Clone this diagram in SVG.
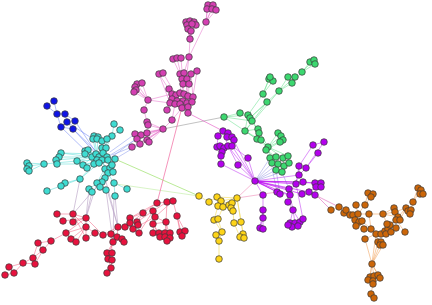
<svg xmlns="http://www.w3.org/2000/svg" width="432" height="305" viewBox="0 0 432 305">
<style>
.e{fill:none;stroke-width:0.8;stroke-linecap:round}
.n circle{r:3.3px;stroke:#3a3a3a;stroke-width:0.7}
#blue circle{fill:#1014e6}
#cyan circle{fill:#3fdcd2}
#magenta circle{fill:#d43fb2}
#green circle{fill:#3cd870}
#purple circle{fill:#b400ee}
#yellow circle{fill:#fdd418}
#red circle{fill:#e8123e}
#orange circle{fill:#cc6608}
</style>
<rect width="432" height="305" fill="#fff"/>
<g id="connectors">
<path class="e" stroke="#b9a3c6" stroke-opacity="0.8" d="M80 179L73 214M89 189L86 218M92 192L73 214M92 192L86 218M97 183L86 218M105 178L118 227M107 190L118 227M114 195L113 242M106 190L113 242M115 196L118 227"/>
<path class="e" stroke="#8fa0ee" stroke-opacity="0.7" d="M110 152L135 134M112 155L132 147M115 159L140 144M107 157L137 139M108 160L141 135"/>
<path class="e" stroke="#93de5c" stroke-opacity="0.8" d="M115 159L199 196"/>
<path class="e" stroke="#c9efb0" stroke-opacity="0.9" d="M116 184L199 196"/>
<path class="e" stroke="#5f78f2" stroke-opacity="0.6" d="M73 129L95 150M75 121L97 154M67 122L93 139M61 127L92 157M73 129L99 157M54 101L57 114M47 106L57 114M57 114L61 127M65 114L67 122M67 122L73 129M61 127L73 129M57 114L65 114M65 114L75 121M61 127L67 122"/>
<path class="e" stroke="#55ddd6" stroke-opacity="0.65" d="M114 124L112 136M120 130L112 136M112 136L102 150M112 136L106 148M94 136L97 154M98 137L97 154M93 139L96 154M102 141L99 157M107 139L103 153M102 148L97 160M106 148L107 157M85 151L97 154M88 150L99 157M85 154L96 154M61 153L92 157M59 157L92 157M56 160L92 157M57 164L94 164M61 153L96 154M44 164L77 161M77 161L92 157M77 161L97 160M27 163L44 164M29 171L44 164M29 166L44 164M83 165L96 154M87 168L97 160M83 165L102 160M105 169L102 160M110 168L107 157M108 173L102 160M113 172L103 153M112 165L108 160M112 165L99 157M80 179L94 164M80 179L99 163M105 178L108 173M102 182L105 169M97 183L104 170M100 187L105 178M97 183L108 173M65 183L80 179M61 186L80 179M47 191L61 186M89 189L100 181M92 192L102 182M114 183L105 169M106 190L100 187M115 196L114 183M127 189L114 183M115 159L108 160M115 159L103 153"/>
<path class="e" stroke="#aaaaaa" stroke-opacity="0.9" d="M163 129L224 117"/>
<path class="e" stroke="#e45cc4" stroke-opacity="0.8" d="M188 113L223 131"/>
<path class="e" stroke="#f0609a" stroke-opacity="0.85" d="M182 107L157 203"/>
<path class="e" stroke="#e364c6" stroke-opacity="0.6" d="M208 5L206 22M213 5L206 22M216 10L206 22M207 9L206 22M212 9L206 22M206 22L189 57L187 73M186 22L190 39M190 21L190 39M194 22L190 39M187 24L190 39M196 25L190 39M188 29L190 39M191 31L190 39M190 39L189 57M173 59L180 74M177 58L182 79M181 58L183 84M189 57L184 73M159 74L172 94M163 73L176 95M159 74L170 103M137 84L148 100M142 83L148 100M135 87L148 100M136 90L148 100M134 92L148 100M148 100L170 103M148 100L172 94M148 100L144 110M144 110L147 122M148 125L163 129M147 122L163 129M163 129L135 134M163 129L141 135M163 129L147 133M163 129L137 139M163 129L147 140M163 129L140 144M163 129L132 147M163 129L149 142M163 129L172 120L175 104M172 120L182 108M167 110L172 99M180 74L184 94M184 73L188 96M191 74L193 97M197 71L192 102M182 79L180 93M187 79L187 103M183 84L183 101M189 84L188 107M169 89L176 95M169 89L172 99M172 94L177 101M176 95L180 104M180 93L182 108M184 94L188 113M188 96L188 107M193 97L192 102M170 103L175 104M177 101L187 103M183 101L188 113M172 99L167 110M135 134L141 135M137 139L140 144M132 147L140 144M147 133L149 142"/>
<path class="e" stroke="#6fe293" stroke-opacity="0.7" d="M310 62L302 72M314 60L302 72M315 64L302 72M302 72L292 83M288 77L279 91M295 77L279 91M292 83L279 91M279 91L250 118M279 91L245 131M269 79L263 94M273 81L263 94M270 77L263 94M263 94L267 102M267 102L250 118M263 94L248 115M267 102L245 131M224 117L240 113M224 117L248 115M224 117L245 131M224 117L252 121M240 113L248 115M248 115L245 131M245 131L258 129M245 131L261 140M245 131L268 147M245 131L257 139M252 121L258 129M252 121L259 133M258 129L268 147M261 140L268 147M278 133L268 147M283 140L268 147M280 142L266 150M281 136L268 147M268 147L272 163M266 150L276 157M268 147L283 158M266 150L270 158M268 147L288 156M276 157L278 164M283 158L284 166M288 156L289 163"/>
<path class="e" stroke="#8c8ce0" stroke-opacity="0.6" d="M255 181L272 163M255 181L276 170M255 181L282 172M255 181L278 164M255 181L270 158M276 170L280 193M272 168L277 192M282 172L289 189"/>
<path class="e" stroke="#c23cf2" stroke-opacity="0.7" d="M255 181L263 195M263 195L263 210M263 210L263 218M263 218L260 228M263 210L260 228M263 210L263 229M255 181L238 165M255 181L221 164M255 181L248 158M255 181L228 146M255 181L232 146M232 137L255 181M255 181L299 175M299 166L299 175M306 168L299 175M299 175L295 184M318 153L306 168M324 142L306 168M313 145L299 166M313 145L324 142M288 202L293 210M293 210L295 223M290 195L293 210M293 210L290 223M293 210L300 222M303 219L296 184M223 131L228 146M218 136L217 147M228 133L232 146M221 155L222 152M221 164L221 155M222 152L217 147M248 158L232 146M238 165L228 146M299 166L296 184M277 192L290 195M289 189L303 182M303 182L315 183M309 192L316 187"/>
<path class="e" stroke="#b800f0" stroke-opacity="0.75" stroke-width="1.4" d="M255 181L277 192M255 181L289 189M255 181L296 184M255 181L303 182M255 181L315 183M255 181L309 192M255 181L302 194M255 181L290 195M255 181L280 193"/>
<path class="e" stroke="#f2a0c4" stroke-opacity="0.9" d="M237 198L255 181M237 198L277 192"/>
<path class="e" stroke="#e070c0" stroke-opacity="0.8" d="M316 195L331 210M315 195L339 207"/>
<path class="e" stroke="#f5df6a" stroke-opacity="0.85" d="M199 196L209 202M209 202L217 197M209 202L218 206M217 197L237 198M221 201L237 198M229 205L237 198M232 203L237 198M237 198L233 211M218 206L214 220M223 207L218 219M214 220L222 232M218 219L222 232M222 232L219 241M216 235L219 241M219 241L219 259M233 211L234 223M237 198L241 222M241 222L243 234M234 223L240 237M237 198L244 238M217 197L229 205M221 201L231 208M214 220L218 219"/>
<path class="e" stroke="#f25276" stroke-opacity="0.6" d="M5 275L14 273M9 267L14 273M9 267L23 263M14 273L23 263M23 263L33 258M23 263L35 264M33 258L43 250M35 264L43 250M43 250L38 243M38 243L51 241M33 258L38 243M43 250L51 241M51 241L66 233M66 233L86 227M66 233L86 218M57 214L73 214M73 214L86 218M63 221L86 218M73 222L86 218M73 214L86 227M86 218L86 227M86 227L95 233M86 227L71 239M86 227L76 242M86 227L86 238M86 238L95 233M95 233L103 235M103 235L111 234M103 235L118 227M111 234L118 227M86 218L103 235M73 214L86 238M118 227L125 227M125 227L130 218M130 218L143 213M130 223L137 222M133 229L139 233M118 227L117 237M117 237L124 242M113 242L122 239M111 234L113 242M117 237L108 253M113 242L107 253M107 253L108 259M112 253L112 260M108 259L111 268M111 268L107 273M112 260L111 268M111 234L112 253M143 213L157 203M153 211L167 202M155 217L173 201M157 203L167 202M167 202L173 201M173 201L177 216M167 202L166 222M166 222L153 224M155 217L153 233M166 222L165 233M166 222L170 238M177 216L180 232M177 216L185 231M153 211L153 224M153 224L160 237M133 229L155 217M139 233L153 211M137 222L153 211M130 218L157 203M125 227L143 213M133 229L143 213M166 222L167 241M177 216L182 236M153 224L159 233M155 217L166 222"/>
<path class="e" stroke="#f0a25c" stroke-opacity="0.7" d="M331 210L339 207M339 207L344 213M339 207L346 210M344 213L353 215M346 210L358 214M350 215L356 226M353 215L362 221M358 214L369 214M355 220L364 229M356 205L358 214M365 205L358 214M368 193L365 205M373 194L365 205M369 214L383 214M383 214L394 208M383 214L395 212M383 214L398 217M395 212L406 208M398 217L406 208M410 214L413 202M413 202L418 188M413 202L421 190M364 229L376 234M371 229L381 234M365 239L376 234M376 234L385 231M381 234L388 229M385 231L390 225M390 225L396 220M396 220L405 232M386 234L396 228M365 239L372 264M376 234L378 242M378 242L372 264M372 264L370 277M372 264L374 276M372 264L378 275M372 264L380 278M368 280L373 284M373 284L371 294M371 294L374 298M380 245L372 264M383 245L372 264M358 214L364 229M369 214L371 229M383 214L387 224M394 208L396 220M344 213L355 220M362 221L371 229M400 220L406 208M376 234L370 277"/>
</g>
<g id="blue" class="n">
<circle id="b1" cx="54" cy="101"/><circle id="b2" cx="47" cy="106"/><circle id="b3" cx="57" cy="114"/><circle id="b4" cx="65" cy="114"/><circle id="b5" cx="75" cy="121"/><circle id="b6" cx="67" cy="122"/><circle id="b7" cx="61" cy="127"/><circle id="b8" cx="73" cy="129"/>
</g>
<g id="cyan" class="n">
<circle id="c1" cx="114" cy="124"/><circle id="c2" cx="120" cy="130"/><circle id="c3" cx="112" cy="136"/><circle id="c4" cx="94" cy="136"/><circle id="c5" cx="98" cy="137"/><circle id="c6" cx="93" cy="139"/><circle id="c7" cx="97" cy="139"/><circle id="c8" cx="102" cy="141"/><circle id="c9" cx="107" cy="139"/><circle id="c10" cx="102" cy="148"/><circle id="c11" cx="106" cy="148"/><circle id="c12" cx="85" cy="151"/><circle id="c13" cx="88" cy="150"/><circle id="c14" cx="85" cy="154"/><circle id="c15" cx="92" cy="157"/><circle id="c16" cx="96" cy="154"/><circle id="c17" cx="99" cy="157"/><circle id="c18" cx="103" cy="153"/><circle id="c19" cx="107" cy="157"/><circle id="c20" cx="97" cy="160"/><circle id="c21" cx="102" cy="160"/><circle id="c22" cx="94" cy="164"/><circle id="c23" cx="99" cy="163"/><circle id="c24" cx="108" cy="160"/><circle id="c25" cx="115" cy="159"/><circle id="c26" cx="61" cy="153"/><circle id="c27" cx="59" cy="157"/><circle id="c28" cx="56" cy="160"/><circle id="c29" cx="57" cy="164"/><circle id="c30" cx="27" cy="163"/><circle id="c31" cx="29" cy="166"/><circle id="c32" cx="27" cy="169"/><circle id="c33" cx="29" cy="171"/><circle id="c34" cx="44" cy="164"/><circle id="c35" cx="77" cy="161"/><circle id="c36" cx="83" cy="165"/><circle id="c37" cx="87" cy="168"/><circle id="c38" cx="105" cy="169"/><circle id="c39" cx="110" cy="168"/><circle id="c40" cx="108" cy="173"/><circle id="c41" cx="113" cy="172"/><circle id="c42" cx="112" cy="165"/><circle id="c43" cx="80" cy="179"/><circle id="c44" cx="105" cy="178"/><circle id="c45" cx="102" cy="182"/><circle id="c46" cx="97" cy="183"/><circle id="c47" cx="100" cy="187"/><circle id="c48" cx="65" cy="183"/><circle id="c49" cx="61" cy="186"/><circle id="c50" cx="47" cy="191"/><circle id="c51" cx="89" cy="189"/><circle id="c52" cx="92" cy="192"/><circle id="c53" cx="114" cy="183"/><circle id="c54" cx="106" cy="190"/><circle id="c55" cx="115" cy="196"/><circle id="c56" cx="127" cy="189"/>
</g>
<g id="magenta" class="n">
<circle id="m1" cx="208" cy="5"/><circle id="m2" cx="213" cy="5"/><circle id="m3" cx="207" cy="9"/><circle id="m4" cx="212" cy="9"/><circle id="m5" cx="216" cy="10"/><circle id="m6" cx="206" cy="22"/><circle id="m7" cx="186" cy="22"/><circle id="m8" cx="190" cy="21"/><circle id="m9" cx="194" cy="22"/><circle id="m10" cx="187" cy="25"/><circle id="m11" cx="196" cy="25"/><circle id="m12" cx="192" cy="24"/><circle id="m13" cx="188" cy="29"/><circle id="m14" cx="191" cy="31"/><circle id="m15" cx="190" cy="39"/><circle id="m16" cx="189" cy="57"/><circle id="m17" cx="173" cy="59"/><circle id="m18" cx="177" cy="58"/><circle id="m19" cx="181" cy="58"/><circle id="m20" cx="159" cy="74"/><circle id="m21" cx="163" cy="73"/><circle id="m22" cx="180" cy="74"/><circle id="m23" cx="184" cy="73"/><circle id="m24" cx="191" cy="74"/><circle id="m25" cx="197" cy="71"/><circle id="m26" cx="182" cy="79"/><circle id="m27" cx="187" cy="79"/><circle id="m28" cx="137" cy="84"/><circle id="m29" cx="142" cy="83"/><circle id="m30" cx="135" cy="87"/><circle id="m31" cx="136" cy="90"/><circle id="m32" cx="134" cy="92"/><circle id="m33" cx="169" cy="89"/><circle id="m34" cx="183" cy="84"/><circle id="m35" cx="189" cy="84"/><circle id="m36" cx="172" cy="94"/><circle id="m37" cx="176" cy="95"/><circle id="m38" cx="180" cy="93"/><circle id="m39" cx="184" cy="94"/><circle id="m40" cx="188" cy="96"/><circle id="m41" cx="193" cy="97"/><circle id="m42" cx="148" cy="100"/><circle id="m43" cx="172" cy="99"/><circle id="m44" cx="177" cy="101"/><circle id="m45" cx="183" cy="101"/><circle id="m46" cx="170" cy="103"/><circle id="m47" cx="175" cy="104"/><circle id="m48" cx="180" cy="104"/><circle id="m49" cx="187" cy="103"/><circle id="m50" cx="192" cy="102"/><circle id="m51" cx="167" cy="110"/><circle id="m52" cx="182" cy="108"/><circle id="m53" cx="188" cy="107"/><circle id="m54" cx="188" cy="113"/><circle id="m55" cx="144" cy="110"/><circle id="m56" cx="172" cy="120"/><circle id="m57" cx="147" cy="122"/><circle id="m58" cx="148" cy="125"/><circle id="m59" cx="163" cy="129"/><circle id="m60" cx="135" cy="134"/><circle id="m61" cx="141" cy="135"/><circle id="m62" cx="147" cy="133"/><circle id="m63" cx="137" cy="139"/><circle id="m64" cx="147" cy="140"/><circle id="m65" cx="140" cy="144"/><circle id="m66" cx="132" cy="147"/><circle id="m67" cx="149" cy="142"/>
</g>
<g id="green" class="n">
<circle id="g1" cx="310" cy="62"/><circle id="g2" cx="314" cy="60"/><circle id="g3" cx="315" cy="64"/><circle id="g4" cx="302" cy="72"/><circle id="g5" cx="288" cy="77"/><circle id="g6" cx="295" cy="77"/><circle id="g7" cx="292" cy="83"/><circle id="g8" cx="269" cy="79"/><circle id="g9" cx="273" cy="81"/><circle id="g10" cx="270" cy="77"/><circle id="g11" cx="279" cy="91"/><circle id="g12" cx="263" cy="94"/><circle id="g13" cx="267" cy="102"/><circle id="g14" cx="224" cy="117"/><circle id="g15" cx="240" cy="113"/><circle id="g16" cx="248" cy="115"/><circle id="g17" cx="250" cy="118"/><circle id="g18" cx="252" cy="121"/><circle id="g19" cx="245" cy="131"/><circle id="g20" cx="258" cy="129"/><circle id="g21" cx="259" cy="133"/><circle id="g22" cx="257" cy="139"/><circle id="g23" cx="261" cy="140"/><circle id="g24" cx="278" cy="133"/><circle id="g25" cx="281" cy="136"/><circle id="g26" cx="283" cy="140"/><circle id="g27" cx="280" cy="142"/><circle id="g28" cx="268" cy="147"/><circle id="g29" cx="266" cy="150"/><circle id="g30" cx="270" cy="158"/><circle id="g31" cx="276" cy="157"/><circle id="g32" cx="283" cy="158"/><circle id="g33" cx="288" cy="156"/><circle id="g34" cx="272" cy="163"/><circle id="g35" cx="278" cy="164"/><circle id="g36" cx="284" cy="166"/><circle id="g37" cx="289" cy="163"/><circle id="g38" cx="276" cy="170"/><circle id="g39" cx="282" cy="172"/>
</g>
<g id="purple" class="n">
<circle id="p1" cx="223" cy="131"/><circle id="p2" cx="228" cy="133"/><circle id="p3" cx="227" cy="137"/><circle id="p4" cx="232" cy="137"/><circle id="p5" cx="234" cy="140"/><circle id="p6" cx="218" cy="136"/><circle id="p7" cx="217" cy="147"/><circle id="p8" cx="220" cy="146"/><circle id="p9" cx="224" cy="148"/><circle id="p10" cx="228" cy="146"/><circle id="p11" cx="232" cy="146"/><circle id="p12" cx="222" cy="152"/><circle id="p13" cx="221" cy="156"/><circle id="p14" cx="248" cy="158"/><circle id="p15" cx="221" cy="164"/><circle id="p16" cx="238" cy="165"/><circle id="p17" cx="313" cy="145"/><circle id="p18" cx="324" cy="142"/><circle id="p19" cx="318" cy="153"/><circle id="p20" cx="299" cy="166"/><circle id="p21" cx="306" cy="168"/><circle id="p22" cx="255" cy="181"/><circle id="p23" cx="299" cy="175"/><circle id="p24" cx="263" cy="195"/><circle id="p25" cx="277" cy="192"/><circle id="p26" cx="280" cy="194"/><circle id="p27" cx="289" cy="189"/><circle id="p28" cx="290" cy="195"/><circle id="p29" cx="288" cy="202"/><circle id="p30" cx="296" cy="184"/><circle id="p31" cx="303" cy="182"/><circle id="p32" cx="315" cy="183"/><circle id="p33" cx="321" cy="183"/><circle id="p34" cx="316" cy="187"/><circle id="p35" cx="321" cy="187"/><circle id="p36" cx="309" cy="192"/><circle id="p37" cx="302" cy="194"/><circle id="p38" cx="315" cy="195"/><circle id="p39" cx="263" cy="210"/><circle id="p40" cx="293" cy="210"/><circle id="p41" cx="263" cy="218"/><circle id="p42" cx="290" cy="223"/><circle id="p43" cx="295" cy="223"/><circle id="p44" cx="300" cy="222"/><circle id="p45" cx="303" cy="219"/><circle id="p46" cx="292" cy="227"/><circle id="p47" cx="298" cy="226"/><circle id="p48" cx="288" cy="225"/><circle id="p49" cx="260" cy="228"/><circle id="p50" cx="263" cy="229"/>
</g>
<g id="yellow" class="n">
<circle id="y1" cx="199" cy="196"/><circle id="y2" cx="209" cy="202"/><circle id="y3" cx="217" cy="197"/><circle id="y4" cx="221" cy="201"/><circle id="y5" cx="218" cy="206"/><circle id="y6" cx="223" cy="207"/><circle id="y7" cx="229" cy="205"/><circle id="y8" cx="232" cy="203"/><circle id="y9" cx="231" cy="208"/><circle id="y10" cx="233" cy="211"/><circle id="y11" cx="237" cy="198"/><circle id="y12" cx="214" cy="220"/><circle id="y13" cx="218" cy="219"/><circle id="y14" cx="234" cy="223"/><circle id="y15" cx="241" cy="222"/><circle id="y16" cx="222" cy="232"/><circle id="y17" cx="216" cy="235"/><circle id="y18" cx="219" cy="241"/><circle id="y19" cx="243" cy="234"/><circle id="y20" cx="240" cy="237"/><circle id="y21" cx="244" cy="238"/><circle id="y22" cx="219" cy="259"/>
</g>
<g id="red" class="n">
<circle id="r1" cx="57" cy="214"/><circle id="r2" cx="73" cy="214"/><circle id="r3" cx="86" cy="218"/><circle id="r4" cx="63" cy="221"/><circle id="r5" cx="73" cy="222"/><circle id="r6" cx="86" cy="227"/><circle id="r7" cx="66" cy="233"/><circle id="r8" cx="95" cy="233"/><circle id="r9" cx="71" cy="239"/><circle id="r10" cx="76" cy="242"/><circle id="r11" cx="86" cy="238"/><circle id="r12" cx="51" cy="241"/><circle id="r13" cx="38" cy="243"/><circle id="r14" cx="43" cy="250"/><circle id="r15" cx="33" cy="258"/><circle id="r16" cx="35" cy="264"/><circle id="r17" cx="23" cy="263"/><circle id="r18" cx="9" cy="267"/><circle id="r19" cx="14" cy="273"/><circle id="r20" cx="5" cy="275"/><circle id="r21" cx="103" cy="235"/><circle id="r22" cx="111" cy="234"/><circle id="r23" cx="117" cy="237"/><circle id="r24" cx="122" cy="239"/><circle id="r25" cx="124" cy="242"/><circle id="r26" cx="113" cy="242"/><circle id="r27" cx="118" cy="227"/><circle id="r28" cx="125" cy="227"/><circle id="r29" cx="133" cy="229"/><circle id="r30" cx="130" cy="218"/><circle id="r31" cx="137" cy="222"/><circle id="r32" cx="138" cy="225"/><circle id="r33" cx="130" cy="223"/><circle id="r34" cx="139" cy="233"/><circle id="r35" cx="143" cy="213"/><circle id="r36" cx="153" cy="211"/><circle id="r37" cx="155" cy="217"/><circle id="r38" cx="166" cy="222"/><circle id="r39" cx="177" cy="216"/><circle id="r40" cx="157" cy="203"/><circle id="r41" cx="167" cy="202"/><circle id="r42" cx="173" cy="201"/><circle id="r43" cx="153" cy="224"/><circle id="r44" cx="153" cy="233"/><circle id="r45" cx="159" cy="233"/><circle id="r46" cx="160" cy="237"/><circle id="r47" cx="165" cy="233"/><circle id="r48" cx="170" cy="233"/><circle id="r49" cx="165" cy="237"/><circle id="r50" cx="170" cy="238"/><circle id="r51" cx="167" cy="241"/><circle id="r52" cx="180" cy="232"/><circle id="r53" cx="185" cy="231"/><circle id="r54" cx="182" cy="236"/><circle id="r55" cx="107" cy="253"/><circle id="r56" cx="112" cy="253"/><circle id="r57" cx="108" cy="259"/><circle id="r58" cx="112" cy="260"/><circle id="r59" cx="111" cy="268"/><circle id="r60" cx="107" cy="273"/>
</g>
<g id="orange" class="n">
<circle id="o1" cx="331" cy="210"/><circle id="o2" cx="339" cy="207"/><circle id="o3" cx="344" cy="213"/><circle id="o4" cx="346" cy="210"/><circle id="o5" cx="350" cy="215"/><circle id="o6" cx="353" cy="215"/><circle id="o7" cx="358" cy="214"/><circle id="o8" cx="355" cy="220"/><circle id="o9" cx="359" cy="222"/><circle id="o10" cx="362" cy="221"/><circle id="o11" cx="356" cy="226"/><circle id="o12" cx="368" cy="193"/><circle id="o13" cx="373" cy="194"/><circle id="o14" cx="371" cy="197"/><circle id="o15" cx="356" cy="205"/><circle id="o16" cx="365" cy="205"/><circle id="o17" cx="369" cy="214"/><circle id="o18" cx="364" cy="229"/><circle id="o19" cx="371" cy="229"/><circle id="o20" cx="365" cy="239"/><circle id="o21" cx="376" cy="234"/><circle id="o22" cx="381" cy="234"/><circle id="o23" cx="385" cy="231"/><circle id="o24" cx="388" cy="229"/><circle id="o25" cx="386" cy="234"/><circle id="o26" cx="391" cy="232"/><circle id="o27" cx="390" cy="225"/><circle id="o28" cx="387" cy="224"/><circle id="o29" cx="396" cy="228"/><circle id="o30" cx="383" cy="214"/><circle id="o31" cx="394" cy="208"/><circle id="o32" cx="395" cy="212"/><circle id="o33" cx="398" cy="217"/><circle id="o34" cx="396" cy="220"/><circle id="o35" cx="400" cy="220"/><circle id="o36" cx="406" cy="208"/><circle id="o37" cx="408" cy="211"/><circle id="o38" cx="411" cy="210"/><circle id="o39" cx="410" cy="214"/><circle id="o40" cx="413" cy="202"/><circle id="o41" cx="418" cy="188"/><circle id="o42" cx="421" cy="190"/><circle id="o43" cx="420" cy="194"/><circle id="o44" cx="423" cy="194"/><circle id="o45" cx="405" cy="232"/><circle id="o46" cx="378" cy="242"/><circle id="o47" cx="381" cy="242"/><circle id="o48" cx="380" cy="245"/><circle id="o49" cx="383" cy="245"/><circle id="o50" cx="372" cy="264"/><circle id="o51" cx="370" cy="277"/><circle id="o52" cx="374" cy="276"/><circle id="o53" cx="378" cy="275"/><circle id="o54" cx="380" cy="278"/><circle id="o55" cx="368" cy="280"/><circle id="o56" cx="373" cy="281"/><circle id="o57" cx="373" cy="284"/><circle id="o58" cx="371" cy="294"/><circle id="o59" cx="374" cy="298"/>
</g>
</svg>
